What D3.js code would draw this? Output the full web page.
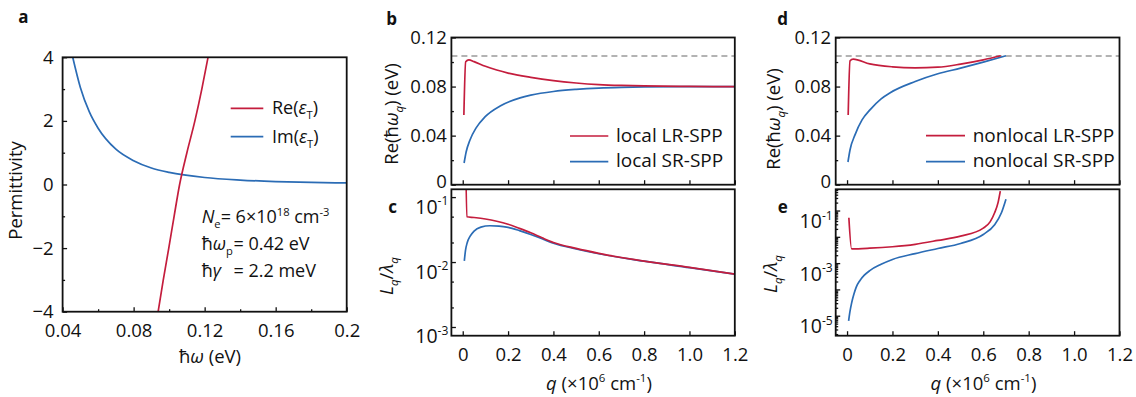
<!DOCTYPE html>
<html>
<head>
<meta charset="utf-8">
<script src="https://cdn.jsdelivr.net/npm/d3@7"></script>
<style>
  body { margin: 0; background: #fff; }
  svg text { font-family: "Open Sans", "Noto Sans", sans-serif; fill: #111; }
</style>
</head>
<body>
<svg id="fig" width="1136" height="397"></svg>
<script>
// ---------- values ----------
// a: permittivity vs photon energy (eV)
const aReOmega = [0.0938, 0.0967, 0.0998, 0.1028, 0.1059, 0.1100, 0.1145, 0.1184, 0.1219];
const aRe      = [-4, -3, -2, -1, 0, 1, 2, 3, 4];
const aImOmega = [0.0457, 0.050, 0.055, 0.060, 0.070, 0.080, 0.090, 0.100, 0.120, 0.140, 0.160, 0.180, 0.200];
const aIm      = [4.0, 3.05, 2.29, 1.77, 1.11, 0.75, 0.52, 0.38, 0.22, 0.14, 0.093, 0.065, 0.048];
const aXTicks = [0.04, 0.08, 0.12, 0.16, 0.2];
const aXLabels = ['0.04', '0.08', '0.12', '0.16', '0.2'];
const aYTicks = [-4, -2, 0, 2, 4];

// b: local dispersion, Re(hbar w_q) (eV) vs q (1e6 cm^-1)
const bLRq = [0.005, 0.013, 0.027, 0.05, 0.1, 0.15, 0.2, 0.3, 0.4, 0.5, 0.6, 0.7, 0.8, 1.0, 1.2];
const bLR  = [0.0569, 0.1002, 0.1018, 0.1003, 0.0965, 0.0935, 0.0910, 0.0875, 0.0848, 0.0829, 0.0816, 0.0809, 0.0805, 0.0801, 0.0800];
const bSRq = [0.006, 0.015, 0.032, 0.059, 0.098, 0.165, 0.253, 0.3, 0.4, 0.5, 0.6, 0.7, 0.8, 1.0, 1.2];
const bSR  = [0.0177, 0.0267, 0.0365, 0.0463, 0.0553, 0.0642, 0.0708, 0.0730, 0.0760, 0.0777, 0.0788, 0.0794, 0.0797, 0.0800, 0.0800];
const lightLine = 0.105;

// c: local L_q / lambda_q
const cLRq = [0.013, 0.018, 0.05, 0.1, 0.15, 0.2, 0.25, 0.3, 0.35, 0.4, 0.5, 0.6, 0.8, 1.0, 1.2];
const cLR  = [0.5, 0.0498, 0.0485, 0.0460, 0.0425, 0.0382, 0.0330, 0.0282, 0.0236, 0.0200, 0.0162, 0.0136, 0.01035, 0.0083, 0.0065];
const cSRq = [0.007, 0.012, 0.02, 0.032, 0.05, 0.08, 0.12, 0.16, 0.2, 0.25, 0.3, 0.35, 0.4, 0.5, 0.6, 0.8, 1.0, 1.2];
const cSR  = [0.0104, 0.0150, 0.0200, 0.0248, 0.0300, 0.0345, 0.0362, 0.0358, 0.0342, 0.0305, 0.0266, 0.0228, 0.0195, 0.0159, 0.0134, 0.0103, 0.0082, 0.0065];

// d: nonlocal dispersion
const dLRq = [0.005, 0.013, 0.027, 0.1, 0.2, 0.3, 0.4, 0.5, 0.6, 0.677];
const dLR  = [0.0569, 0.1010, 0.1024, 0.0985, 0.0961, 0.0953, 0.0958, 0.0983, 0.1018, 0.1051];
const dSRq = [0.004, 0.013, 0.035, 0.066, 0.102, 0.15, 0.19, 0.3, 0.4, 0.5, 0.6, 0.7];
const dSR  = [0.0185, 0.0283, 0.0406, 0.0528, 0.0612, 0.0700, 0.0750, 0.0841, 0.0904, 0.0950, 0.0999, 0.1051];

// e: nonlocal L_q / lambda_q
const eLRq = [0.008, 0.02, 0.1, 0.2, 0.3, 0.4, 0.5, 0.6, 0.63, 0.65, 0.665, 0.675];
const eLR  = [0.053, 0.0035, 0.0037, 0.0042, 0.0052, 0.0073, 0.0106, 0.0215, 0.037, 0.082, 0.20, 0.55];
const eSRq = [0.007, 0.012, 0.02, 0.03, 0.04, 0.057, 0.075, 0.1, 0.15, 0.2, 0.3, 0.4, 0.5, 0.6, 0.65, 0.68, 0.7];
const eSR  = [6.4e-6, 1.3e-5, 3.0e-5, 6.5e-5, 1.2e-4, 2.2e-4, 3.4e-4, 5.2e-4, 9.0e-4, 1.38e-3, 2.3e-3, 3.6e-3, 5.6e-3, 0.0123, 0.029, 0.082, 0.27];

const qTicks = [0, 0.2, 0.4, 0.6, 0.8, 1.0, 1.2];
const bYTicks = [0, 0.04, 0.08, 0.12];
const cYTicks = [1e-1, 1e-2, 1e-3];
const eYTicks = [1e-1, 1e-2, 1e-3, 1e-4, 1e-5];
const eYLabelled = [1e-1, 1e-3, 1e-5];

const RED = '#c41d3d', BLUE = '#2b6cb5';
const FS = 18.5;

const svg = d3.select('#fig');

// rich text helper: parts = [[string, kind]], kind in '', 'i', 'sub', 'sup', 'isub'
function rich(text, parts, fs) {
  let shift = 0;
  parts.forEach(function(p) {
    const s = p[0], k = p[1] || '';
    let off = 0;
    if (k.indexOf('sub') >= 0) off = 0.28 * fs;
    if (k.indexOf('sup') >= 0) off = -0.42 * fs;
    const t = text.append('tspan').text(s).attr('dy', off - shift);
    if (off !== 0) t.attr('font-size', 0.62 * fs);
    if (k[0] === 'i') t.attr('font-style', 'italic');
    shift = off;
  });
  return text;
}

function panel(box, xs, ys) {
  const g = svg.append('g');
  const id = 'clip' + Math.round(box.x0) + '_' + Math.round(box.y0);
  svg.append('clipPath').attr('id', id).append('rect')
    .attr('x', box.x0).attr('y', box.y0)
    .attr('width', box.x1 - box.x0).attr('height', box.y1 - box.y0);
  const plot = g.append('g').attr('clip-path', 'url(#' + id + ')');
  return { g: g, plot: plot, x: xs, y: ys, box: box };
}

function frame(p) {
  p.g.append('rect')
    .attr('x', p.box.x0).attr('y', p.box.y0)
    .attr('width', p.box.x1 - p.box.x0).attr('height', p.box.y1 - p.box.y0)
    .attr('fill', 'none').attr('stroke', '#111').attr('stroke-width', 1.8);
}

function styleAxis(g) {
  g.select('.domain').remove();
  g.selectAll('.tick line').attr('stroke', '#111').attr('stroke-width', 1.3);
  g.selectAll('.tick text').attr('font-size', FS).attr('fill', '#111')
    .style('font-family', '"Open Sans", sans-serif');
}

function xAxis(p, ticks, labels, minor, pad) {
  const ax = d3.axisBottom(p.x).tickValues(ticks).tickSizeInner(-4.5).tickSizeOuter(0)
    .tickPadding(pad == null ? 0 : pad)
    .tickFormat(labels ? function(d, i) { return labels[i]; } : '');
  p.g.append('g').attr('transform', 'translate(0,' + p.box.y1 + ')').call(ax).call(styleAxis);
  if (minor) {
    p.g.append('g').attr('transform', 'translate(0,' + p.box.y1 + ')')
      .call(d3.axisBottom(p.x).tickValues(minor).tickSizeInner(-2.5).tickSizeOuter(0).tickFormat(''))
      .call(styleAxis);
  }
}

function yAxis(p, ticks, fmt, minor, pad) {
  const ax = d3.axisLeft(p.y).tickValues(ticks).tickSizeInner(-4.5).tickSizeOuter(0)
    .tickPadding(pad).tickFormat(fmt);
  const g = p.g.append('g').attr('transform', 'translate(' + p.box.x0 + ',0)').call(ax).call(styleAxis);
  if (minor) {
    p.g.append('g').attr('transform', 'translate(' + p.box.x0 + ',0)')
      .call(d3.axisLeft(p.y).tickValues(minor).tickSizeInner(-2.5).tickSizeOuter(0).tickFormat(''))
      .call(styleAxis);
  }
  return g;
}

function logLabels(g, labelled, dyBase) {
  g.selectAll('.tick text').each(function(d) {
    const t = d3.select(this);
    t.text(null).attr('dy', null).attr('y', dyBase);
    if (labelled.indexOf(d) < 0) return;
    rich(t, [['10'], ['-' + Math.round(-Math.log10(d)), 'sup']], FS + 1);
  }).attr('font-size', FS + 1);
}

function curve(p, xs, ys, color, w) {
  const line = d3.line()
    .x(function(d) { return p.x(d[0]); })
    .y(function(d) { return p.y(d[1]); })
    .curve(d3.curveMonotoneX);
  p.plot.append('path').datum(d3.zip(xs, ys))
    .attr('d', line).attr('fill', 'none')
    .attr('stroke', color).attr('stroke-width', w || 1.7).attr('stroke-linejoin', 'round');
}

function yTitle(cx, cy, parts, fs) {
  const t = svg.append('text')
    .attr('transform', 'translate(' + cx + ',' + cy + ') rotate(-90)')
    .attr('text-anchor', 'middle').attr('font-size', fs);
  rich(t, parts, fs);
}

function plain(x, y, parts, fs, anchor, weight) {
  const t = svg.append('text').attr('x', x).attr('y', y)
    .attr('font-size', fs).attr('text-anchor', anchor || 'start');
  if (weight) t.attr('font-weight', weight);
  rich(t, parts, fs);
  return t;
}

function legendRow(x0, x1, y, color, tx, ty, parts, fs) {
  svg.append('line').attr('x1', x0).attr('x2', x1).attr('y1', y).attr('y2', y)
    .attr('stroke', color).attr('stroke-width', 1.7);
  plain(tx, ty, parts, fs);
}

// lift the "0" label of the top panels a little, as in the figure
function liftZero(g) {
  g.selectAll('.tick text').filter(function(d) { return d === 0; }).attr('y', -3);
}

// ---------- panel a ----------
const boxA = { x0: 62.6, x1: 346.7, y0: 57.3, y1: 311.7 };
const pa = panel(boxA,
  d3.scaleLinear().domain([0.04, 0.2]).range([boxA.x0, boxA.x1]),
  d3.scaleLinear().domain([-4, 4]).range([boxA.y1, boxA.y0]));
curve(pa, aImOmega, aIm, BLUE);
curve(pa, aReOmega, aRe, RED);
xAxis(pa, aXTicks, aXLabels, [0.06, 0.10, 0.14, 0.18], 12.5);
yAxis(pa, aYTicks, d3.format('d'), [-3, -1, 1, 3], 9);
frame(pa);
yTitle(22.4, 190.5, [['Permittivity']], 18.5);
plain(210, 363, [['ħ'], ['ω', 'i'], [' (eV)']], 18.5, 'middle');
legendRow(230.7, 263.3, 108.3, RED, 272, 114, [['Re('], ['ε', 'i'], ['T', 'sub'], [')']], 18);
legendRow(230.7, 263.3, 136.7, BLUE, 272, 142.5, [['Im('], ['ε', 'i'], ['T', 'sub'], [')']], 18);
plain(201.7, 223.3, [['N', 'i'], ['e', 'sub'], ['= 6×10'], ['18', 'sup'], [' cm'], ['-3', 'sup']], 18);
plain(201.7, 250, [['ħ'], ['ω', 'i'], ['p', 'sub']], 18);
plain(233.5, 250, [['= 0.42 eV']], 18);
plain(201.7, 276.7, [['ħ'], ['γ', 'i']], 18);
plain(233.5, 276.7, [['= 2.2 meV']], 18);

// ---------- panels b and c ----------
const boxB = { x0: 451.4, x1: 734.8, y0: 37.5, y1: 184.7 };
const boxC = { x0: 451.4, x1: 734.8, y0: 189.3, y1: 335.7 };
const qB = d3.scaleLinear().domain([-0.05, 1.2]).range([boxB.x0, boxB.x1]);
const pb = panel(boxB, qB, d3.scaleLinear().domain([0, 0.12]).range([boxB.y1, boxB.y0]));
pb.plot.append('line').attr('x1', boxB.x0).attr('x2', boxB.x1)
  .attr('y1', pb.y(lightLine)).attr('y2', pb.y(lightLine))
  .attr('stroke', '#9a9a9a').attr('stroke-width', 1.5).attr('stroke-dasharray', '6,4');
curve(pb, bSRq, bSR, BLUE);
curve(pb, bLRq, bLR, RED);
xAxis(pb, qTicks, null, null, 0);
liftZero(yAxis(pb, bYTicks, function(d) { return d === 0 ? '0' : d.toFixed(2); }, [0.02, 0.06, 0.10], 4.5));
frame(pb);

const pc = panel(boxC, qB, d3.scaleLog().domain([Math.pow(10, -3.134), Math.pow(10, -0.88)]).range([boxC.y1, boxC.y0]));
curve(pc, cSRq, cSR, BLUE);
curve(pc, cLRq, cLR, RED);
xAxis(pc, qTicks, qTicks.map(function(d) { return d === 0 ? '0' : d.toFixed(1); }), null, 12);
logLabels(yAxis(pc, cYTicks, '', [0.05, 0.02, 0.005, 0.002], 3), cYTicks, 16);
frame(pc);

// ---------- panels d and e ----------
const boxD = { x0: 835.7, x1: 1119.5, y0: 37.5, y1: 184.7 };
const boxE = { x0: 835.7, x1: 1119.5, y0: 189.3, y1: 335.7 };
const qD = d3.scaleLinear().domain([-0.05, 1.2]).range([boxD.x0, boxD.x1]);
const pd = panel(boxD, qD, d3.scaleLinear().domain([0, 0.12]).range([boxD.y1, boxD.y0]));
pd.plot.append('line').attr('x1', boxD.x0).attr('x2', boxD.x1)
  .attr('y1', pd.y(lightLine)).attr('y2', pd.y(lightLine))
  .attr('stroke', '#9a9a9a').attr('stroke-width', 1.5).attr('stroke-dasharray', '6,4');
curve(pd, dSRq, dSR, BLUE);
curve(pd, dLRq, dLR, RED);
xAxis(pd, qTicks, null, null, 0);
liftZero(yAxis(pd, bYTicks, function(d) { return d === 0 ? '0' : d.toFixed(2); }, [0.02, 0.06, 0.10], 4.5));
frame(pd);

const eMinor = [];
[-6, -5, -4, -3, -2, -1].forEach(function(e) {
  for (let k = 2; k <= 9; k++) eMinor.push(k * Math.pow(10, e));
});
const eY = d3.scaleLog().domain([Math.pow(10, -5.76), Math.pow(10, -0.193)]).range([boxE.y1, boxE.y0]);
const pe = panel(boxE, qD, eY);
curve(pe, eSRq, eSR, BLUE);
curve(pe, eLRq, eLR, RED);
xAxis(pe, qTicks, qTicks.map(function(d) { return d === 0 ? '0' : d.toFixed(1); }), null, 12);
logLabels(yAxis(pe, eYTicks, '', eMinor.filter(function(v) { return v > eY.domain()[0] && v < eY.domain()[1]; }), 3),
  eYLabelled, 17);
frame(pe);

// titles for b-e
const reParts = [['Re('], ['ħ'], ['ω', 'i'], ['q', 'isub'], [') (eV)']];
const lParts = [['L', 'i'], ['q', 'isub'], ['/'], ['λ', 'i'], ['q', 'isub']];
const qParts = [['q', 'i'], [' (×10'], ['6', 'sup'], [' cm'], ['-1', 'sup'], [')']];
yTitle(397.5, 114, reParts, 18.5);
yTitle(393, 276, lParts, 18.5);
yTitle(780, 119, reParts, 18.5);
yTitle(777, 274, lParts, 18.5);
plain(599, 390, qParts, 18.5, 'middle');
plain(983.5, 390, qParts, 18.5, 'middle');

legendRow(570, 608.3, 136, RED, 616, 141.7, [['local LR-SPP']], 19);
legendRow(570, 608.3, 161.7, BLUE, 616, 167.3, [['local SR-SPP']], 19);
legendRow(926, 965, 135.7, RED, 972.7, 141.7, [['nonlocal LR-SPP']], 19);
legendRow(926, 965, 161.7, BLUE, 972.7, 166.7, [['nonlocal SR-SPP']], 19);

// panel letters
[['a', 23.3, 22.5], ['b', 391.7, 24.5], ['c', 392.7, 212.5], ['d', 782.7, 24.5], ['e', 782.7, 212.5]]
  .forEach(function(l) { plain(l[1], l[2], [[l[0]]], 17, 'middle', 'bold'); });
</script>
</body>
</html>
